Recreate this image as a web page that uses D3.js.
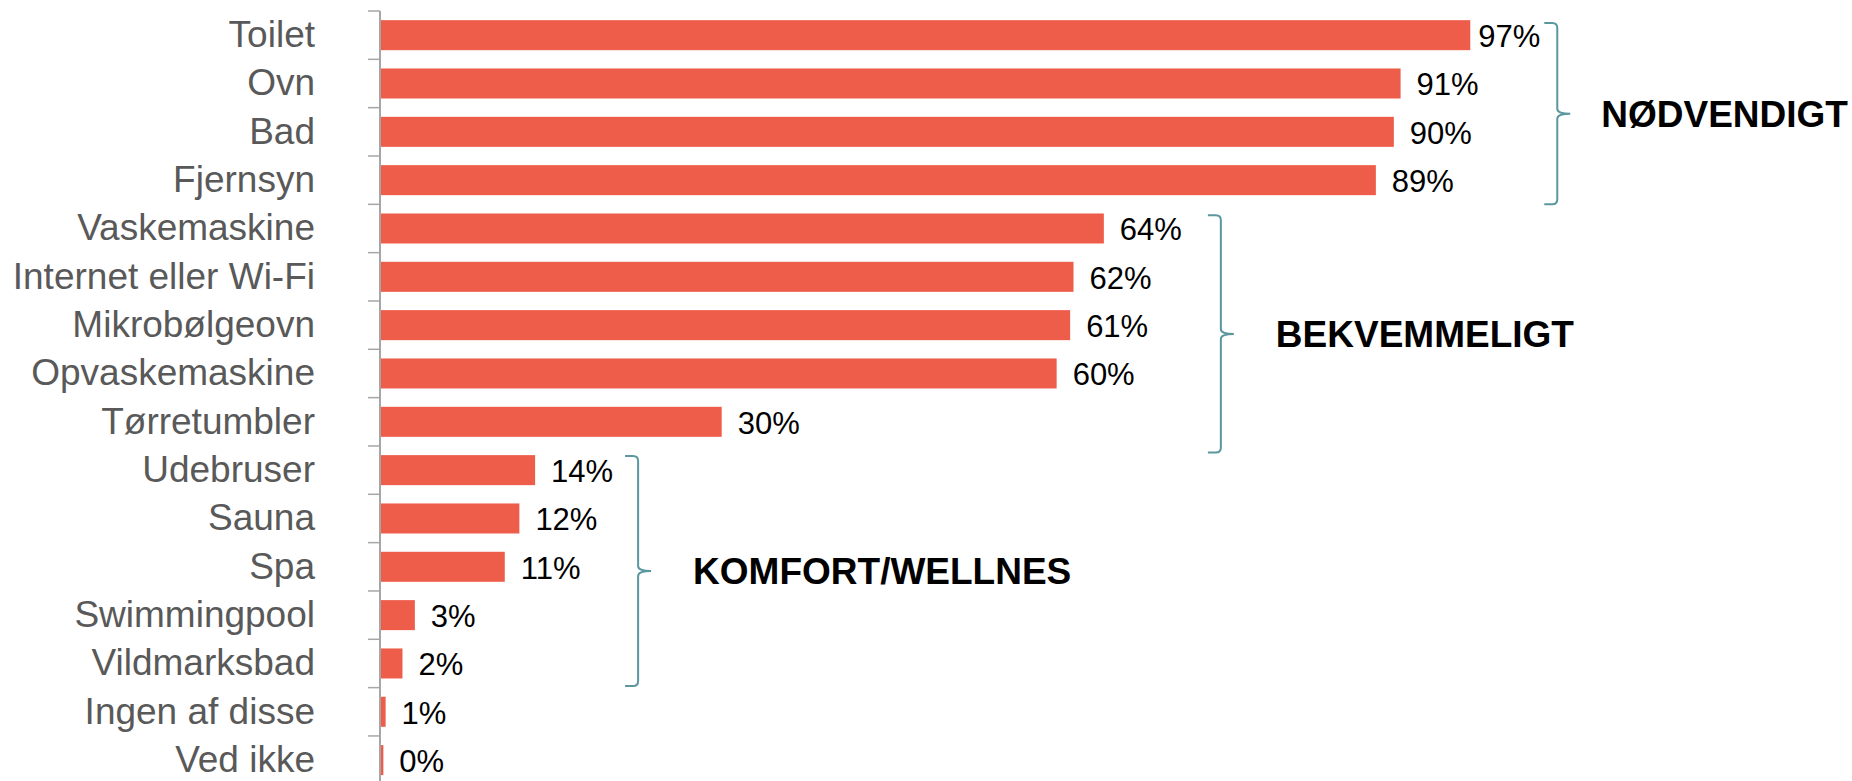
<!DOCTYPE html>
<html><head><meta charset="utf-8">
<script src="https://cdn.jsdelivr.net/npm/d3@7"></script>
<style>html,body{margin:0;padding:0;background:#fff;}svg{display:block;}</style>
</head><body>
<svg id="chart" width="1852" height="781"></svg>
<script>
const categories = ["Toilet","Ovn","Bad","Fjernsyn","Vaskemaskine","Internet eller Wi-Fi","Mikrobølgeovn","Opvaskemaskine","Tørretumbler","Udebruser","Sauna","Spa","Swimmingpool","Vildmarksbad","Ingen af disse","Ved ikke"];
const values = [97.0, 90.8, 90.2, 88.6, 64.4, 61.7, 61.4, 60.2, 30.4, 13.8, 12.4, 11.1, 3.1, 2.0, 0.5, 0.3];
const groupNames = ["NØDVENDIGT","BEKVEMMELIGT","KOMFORT/WELLNES"];
const groupFirst = ["Toilet","Vaskemaskine","Udebruser"];
const groupLast = ["Fjernsyn","Tørretumbler","Vildmarksbad"];

const svg = d3.select("#chart");
const axisX = 380;
const x = d3.scaleLinear().domain([0,100]).range([axisX, 1504]);
const y = d3.scaleBand().domain(categories).range([11, 11 + 16*48.33]).paddingInner(0.379).paddingOuter(0.1895);
const step = y.step();
const bandTop = c => y(c) - (step - y.bandwidth())/2;

const barColor = "#EE5C4A";
const braceColor = "#5A979E";
const fontFam = "'Liberation Sans', Arial, Helvetica, sans-serif";

// bars
svg.append("g").selectAll("rect").data(categories).join("rect")
  .attr("x", axisX)
  .attr("y", c => y(c))
  .attr("width", (c,i) => x(values[i]) - axisX)
  .attr("height", y.bandwidth())
  .attr("fill", barColor);

// axis line + ticks
const ax = svg.append("g").attr("stroke", "#A6A6A6");
ax.append("line").attr("x1", axisX).attr("x2", axisX).attr("y1", 11).attr("y2", 790).attr("stroke-width", 2);
ax.selectAll("line.t").data(d3.range(categories.length + 1)).join("line").attr("class","t")
  .attr("x1", axisX - 12).attr("x2", axisX)
  .attr("y1", i => 11 + i*step).attr("y2", i => 11 + i*step)
  .attr("stroke-width", 1.5);

// category labels
svg.append("g").selectAll("text").data(categories).join("text")
  .attr("x", 315)
  .attr("y", c => y(c) + y.bandwidth()/2 + 12)
  .attr("text-anchor", "end")
  .attr("font-family", fontFam)
  .attr("font-size", 37)
  .attr("fill", "#595959")
  .text(c => c);

// value labels
svg.append("g").selectAll("text").data(categories).join("text")
  .attr("x", (c,i) => x(values[i]) + (i === 0 ? 8 : 16))
  .attr("y", c => y(c) + y.bandwidth()/2 + 12)
  .attr("font-family", fontFam)
  .attr("font-size", 31)
  .attr("fill", "#000")
  .text((c,i) => Math.round(values[i]) + "%");

// braces
const braceOffset = [87, 117, 103];   // distance from group's longest bar end
const topPad = [12, 11, 10];
const botPad = [0, 6.5, -1.5];
const textGap = [31, 42, 42];
groupNames.forEach((name, g) => {
  const i0 = categories.indexOf(groupFirst[g]);
  const i1 = categories.indexOf(groupLast[g]);
  const maxV = d3.max(values.slice(i0, i1 + 1));
  const bx = x(maxV) + braceOffset[g];
  const top = bandTop(groupFirst[g]) + topPad[g];
  const bot = bandTop(groupLast[g]) + step + botPad[g];
  const mid = (top + bot)/2;
  const arm = 13, r = 5, tip = 13;
  const p = `M${bx-arm},${top} L${bx-r},${top} Q${bx},${top} ${bx},${top+r} L${bx},${mid-r} Q${bx},${mid} ${bx+tip},${mid} Q${bx},${mid} ${bx},${mid+r} L${bx},${bot-r} Q${bx},${bot} ${bx-r},${bot} L${bx-arm},${bot}`;
  svg.append("path").attr("d", p).attr("fill","none").attr("stroke", braceColor).attr("stroke-width", 2);
  svg.append("text")
    .attr("x", bx + tip + textGap[g])
    .attr("y", mid + 13)
    .attr("font-family", fontFam)
    .attr("font-weight", "bold")
    .attr("font-size", 37)
    .attr("fill", "#000")
    .text(name);
});
</script>
</body></html>
